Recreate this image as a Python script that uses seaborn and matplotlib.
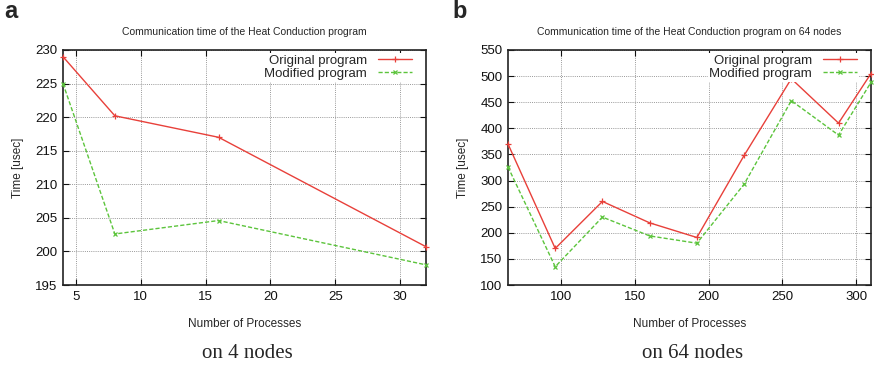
# Communication time of the Heat Conduction program, 4 vs 64 nodes

import matplotlib
matplotlib.use("Agg")
import matplotlib.pyplot as plt
import seaborn as sns

# data
procs_4 = [4, 8, 16, 32]
orig_4 = [229.0, 220.2, 217.0, 200.7]
mod_4 = [225.0, 202.6, 204.6, 198.0]

procs_64 = [64, 96, 128, 160, 192, 224, 256, 288, 310]
orig_64 = [370, 170, 260, 219, 191, 348, 495, 410, 505]
mod_64 = [326, 135, 230, 194, 180, 293, 453, 387, 488]

series_names = ["Original program", "Modified program"]
red = "#e8403a"
green = "#5cc43c"

sns.set_style("ticks")
plt.rcParams['font.family'] = ['Liberation Sans', 'DejaVu Sans']

fig = plt.figure(figsize=(8.74, 3.69), dpi=100)
ax1 = fig.add_axes([63 / 874, 1 - 285 / 369, 363 / 874, 235 / 369])
ax2 = fig.add_axes([508 / 874, 1 - 285 / 369, 363 / 874, 235 / 369])

panels = [
    (ax1, procs_4, orig_4, mod_4, (4, 32), (195, 230),
     range(5, 31, 5), range(195, 231, 5),
     "Communication time of the Heat Conduction program", "on 4 nodes", "a"),
    (ax2, procs_64, orig_64, mod_64, (64, 310), (100, 550),
     range(100, 301, 50), range(100, 551, 50),
     "Communication time of the Heat Conduction program on 64 nodes", "on 64 nodes", "b"),
]

for ax, x, orig, mod, xlim, ylim, xt, yt, title, caption, letter in panels:
    sns.lineplot(x=x, y=orig, color=red, marker="+", markersize=4.5,
                 markeredgewidth=0.9, markeredgecolor=red, linewidth=1.0,
                 label=series_names[0], ax=ax, clip_on=False, zorder=3)
    sns.lineplot(x=x, y=mod, color=green, marker="x", markersize=3.5,
                 markeredgewidth=0.9, markeredgecolor=green, linewidth=1.0,
                 linestyle=(0, (3, 1.5)), label=series_names[1], ax=ax,
                 clip_on=False, zorder=3)
    ax.set_xlim(*xlim)
    ax.set_ylim(*ylim)
    ax.set_xticks(list(xt))
    ax.set_yticks(list(yt))
    ax.grid(True, color="#999999", linestyle=(0, (1, 1.2)), linewidth=0.7)
    ax.set_axisbelow(True)
    ax.tick_params(direction="in", top=True, right=True, labelsize=9.5,
                   length=4, width=0.8, pad=4, colors="#111111")
    for s in ax.spines.values():
        s.set_linewidth(1.2)
        s.set_color("#222222")
    ax.set_title(title, fontsize=7.5, pad=11)
    ax.set_xlabel("Number of Processes", fontsize=8.5, labelpad=11)
    ax.set_ylabel("Time [usec]", fontsize=8.5, labelpad=8)
    leg = ax.legend(loc="upper right", bbox_to_anchor=(0.966, 0.986),
                    markerfirst=False, fontsize=9.5,
                    frameon=True, fancybox=False, framealpha=1,
                    handlelength=2.6, handletextpad=0.8, labelspacing=0.05,
                    borderpad=0.12, borderaxespad=0.0)
    leg.get_frame().set_edgecolor("none")
    leg.get_frame().set_facecolor("white")

    bb = ax.get_position()
    cx = (bb.x0 + bb.x1) / 2
    fig.text(cx + 0.003, 1 - 353 / 369, caption, ha="center", va="center",
             fontsize=15, family=["Liberation Serif", "DejaVu Serif"])
    fig.text(bb.x0 - (59 if letter == "a" else 56) / 874, 1 - 11 / 369, letter,
             ha="left", va="center", fontsize=17, fontweight="bold")

fig.savefig("out.png", dpi=100)
